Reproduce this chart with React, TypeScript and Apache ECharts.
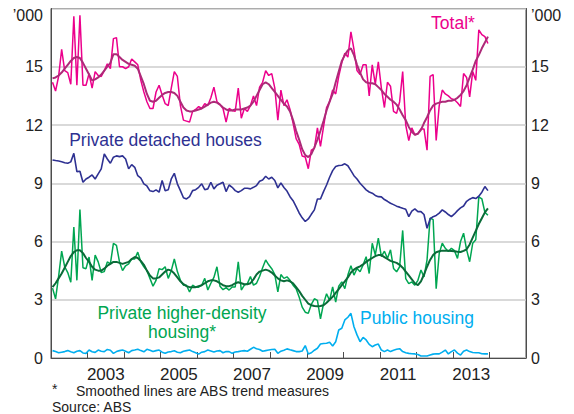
import React, { useEffect, useRef } from "react";
import * as echarts from "echarts";

// Monthly data, January 2002 to December 2013 ('000 dwellings)
const startYear = 2002;

const totalRaw = [
  14.2, 13.75, 14.5, 15.9, 14.8, 14.7, 14.1, 17.6, 14.05, 17.65, 14.05, 14.05,
  14.65, 13.9, 14.75, 14.55, 14.5, 14.8, 15.15, 14.9, 16.45, 16.5, 15.0, 15.0,
  14.9, 15.0, 15.4, 15.25, 15.1, 14.3, 13.7, 13.2, 12.85, 12.85, 13.7, 14.05,
  13.55, 13.1, 13.0, 13.9, 14.75, 14.5, 13.0, 12.25, 12.2, 12.15, 12.7, 12.8,
  12.95, 12.85, 13.1, 13.0, 13.4, 13.95, 13.2, 13.05, 12.85, 12.15, 12.85, 12.75,
  12.7, 13.9, 12.35, 12.85, 12.7, 13.0, 13.5, 13.0, 13.95, 14.2, 14.8, 14.55,
  14.65, 13.9, 12.25, 13.8, 13.0, 13.3, 12.8, 12.1, 11.3, 11.0, 10.4, 10.35,
  9.75, 10.7, 10.8, 11.85, 10.9, 11.9, 12.9, 13.2, 13.8, 13.6, 14.5, 15.2,
  15.7, 15.5, 16.8, 15.9, 14.8, 14.6, 15.1, 15.1, 13.5, 15.1, 14.1, 15.25,
  13.9, 12.9, 14.2, 14.0, 12.7, 12.6, 13.2, 14.75, 12.0, 11.2, 11.85, 11.5,
  11.55, 11.8, 11.8, 10.7, 14.5, 14.6, 11.2, 13.0, 13.8, 13.6, 13.5, 13.35,
  13.3, 13.15, 12.95, 14.65, 14.45, 13.45, 14.75, 14.3, 16.9, 16.65, 16.55, 16.2,
];

const totalTrend = [
  14.4, 14.45, 14.55, 14.7, 14.9, 15.1, 15.3, 15.45, 15.5, 15.45, 15.2, 14.9,
  14.6, 14.3, 14.35, 14.45, 14.6, 14.8, 15.0, 15.2, 15.65, 15.65, 15.5, 15.35,
  15.25, 15.15, 15.1, 15.05, 14.9, 14.5, 14.1, 13.6, 13.25, 13.2, 13.25, 13.4,
  13.55, 13.65, 13.7, 13.7, 13.65, 13.5, 13.2, 12.9, 12.75, 12.7, 12.7, 12.75,
  12.8, 12.85, 12.95, 13.05, 13.15, 13.2, 13.15, 13.05, 12.9, 12.8, 12.75, 12.75,
  12.8, 12.8, 12.8, 12.85, 12.9, 13.0, 13.2, 13.5, 13.8, 14.1, 14.2, 14.1,
  13.9, 13.7, 13.5, 13.3, 13.1, 12.95, 12.7, 12.25, 11.7, 11.25, 10.75, 10.45,
  10.35, 10.5, 10.85, 11.25, 11.7, 12.2, 12.75, 13.2, 13.6, 14.2, 14.75, 15.3,
  15.6, 15.85, 15.95, 15.6, 15.1, 14.7, 14.35, 14.2, 14.15, 14.15, 14.1, 13.95,
  13.8, 13.6, 13.45, 13.3, 13.2, 13.05, 12.8, 12.5, 12.25, 11.9, 11.65, 11.5,
  11.55, 11.75, 12.1, 12.4, 12.75, 13.0, 13.1, 13.15, 13.2, 13.2, 13.25, 13.25,
  13.3, 13.4, 13.55, 13.75, 14.05, 14.45, 14.85, 15.3, 15.6, 15.95, 16.25, 16.55,
];

const detached = [
  10.2, 10.17, 10.15, 10.11, 10.06, 10.03, 10.1, 10.54, 9.6, 9.62, 9.05, 9.22,
  9.31, 9.43, 9.22, 9.48, 9.74, 10.51, 10.25, 10.03, 10.34, 10.41, 10.37, 10.41,
  10.25, 9.74, 9.96, 9.82, 9.39, 9.26, 8.97, 8.86, 8.61, 8.57, 8.66, 8.54,
  9.14, 8.61, 8.66, 9.22, 9.51, 8.97, 8.62, 8.25, 8.19, 8.31, 8.62, 8.67,
  8.79, 8.97, 8.67, 8.71, 9.05, 8.71, 8.9, 8.97, 9.05, 8.57, 8.91, 8.79,
  8.62, 8.54, 8.62, 8.74, 8.74, 8.71, 8.79, 8.88, 9.1, 9.17, 9.36, 9.22,
  9.31, 9.14, 8.76, 9.02, 8.78, 8.6, 8.31, 8.1, 7.8, 7.47, 7.22, 7.03,
  7.16, 7.4, 7.63, 8.19, 8.19, 8.57, 8.91, 9.31, 9.65, 9.86, 9.91, 9.93,
  10.0, 9.9, 9.65, 9.39, 9.22, 9.0, 8.83, 8.66, 8.55, 8.49, 8.37, 8.31,
  8.3, 8.16, 8.07, 7.97, 7.9, 7.82, 7.77, 7.71, 7.66, 7.28, 7.56, 7.68,
  7.54, 7.54, 7.39, 6.68, 7.16, 7.28, 7.34, 7.46, 7.63, 7.52, 7.39, 7.28,
  7.42, 7.59, 7.73, 7.83, 8.07, 8.18, 8.26, 8.21, 8.33, 8.54, 8.83, 8.62,
];

const densityRaw = [
  3.6, 3.05, 4.2, 5.5, 4.7, 4.4, 3.9, 6.75, 4.0, 7.65, 4.65, 4.6,
  5.2, 4.0, 5.3, 4.95, 4.4, 4.45, 4.95, 4.85, 5.9, 5.8, 4.95, 4.5,
  4.75, 4.85, 5.1, 5.1, 5.45, 4.95, 4.7, 4.5, 4.1, 3.7, 4.0, 4.6,
  4.55, 4.7, 4.1, 4.5, 5.1, 4.45, 4.0, 3.75, 3.75, 3.4, 3.75, 3.65,
  3.65, 3.75, 4.1, 3.5, 3.85, 4.15, 4.7, 3.7, 3.52, 3.62, 3.5, 3.66,
  3.66, 4.95, 3.5, 3.75, 3.83, 4.2, 3.75, 3.85, 4.2, 4.65, 5.05, 4.8,
  4.6, 4.3, 3.4, 4.3, 4.1, 4.18, 4.0, 3.75, 3.57, 3.14, 2.62, 2.36,
  2.3, 2.76, 3.05, 2.97, 2.01, 2.8, 3.31, 2.97, 3.66, 2.88, 3.7, 3.92,
  3.57, 4.27, 4.75, 4.27, 4.61, 4.44, 4.79, 5.22, 4.35, 5.91, 5.31, 6.17,
  5.22, 5.5, 5.13, 5.57, 4.61, 4.44, 4.7, 6.57, 4.09, 3.83, 3.92, 3.75,
  4.0, 4.53, 4.18, 5.05, 7.21, 7.13, 3.57, 5.39, 5.91, 5.65, 5.48, 5.65,
  5.53, 5.13, 6.0, 6.43, 5.57, 4.96, 5.91, 6.09, 8.3, 8.2, 7.5, 7.35,
];

const densityTrend = [
  3.65, 3.85, 4.1, 4.35, 4.65, 4.95, 5.25, 5.45, 5.55, 5.55, 5.4, 5.15,
  4.95, 4.7, 4.55, 4.5, 4.5, 4.6, 4.75, 4.85, 4.95, 4.95, 4.9, 4.85,
  4.9, 4.95, 5.1, 5.2, 5.15, 5.0, 4.8, 4.5, 4.25, 4.1, 4.1, 4.15,
  4.3, 4.45, 4.55, 4.5, 4.35, 4.15, 3.95, 3.8, 3.7, 3.65, 3.65, 3.65,
  3.7, 3.75, 3.85, 3.95, 4.0, 4.0, 3.95, 3.85, 3.75, 3.7, 3.7, 3.75,
  3.85, 3.9, 3.85, 3.8, 3.8, 3.85, 4.05, 4.3, 4.45, 4.5, 4.55, 4.5,
  4.4, 4.25, 4.1, 4.0, 3.95, 4.0, 3.95, 3.85, 3.65, 3.45, 3.2, 3.0,
  2.8, 2.72, 2.68, 2.66, 2.68, 2.72, 2.85, 3.0, 3.15, 3.35, 3.55, 3.75,
  3.95, 4.15, 4.4, 4.55, 4.65, 4.72, 4.82, 4.95, 5.05, 5.15, 5.25, 5.3,
  5.3, 5.2, 5.1, 5.0, 4.95, 4.9, 4.8, 4.65, 4.45, 4.25, 4.05, 3.85,
  3.75, 3.95, 4.3, 4.7, 5.05, 5.3, 5.45, 5.5, 5.53, 5.53, 5.52, 5.51,
  5.5, 5.47, 5.46, 5.52, 5.6, 5.85, 6.2, 6.55, 6.9, 7.2, 7.5, 7.7,
];

const publicHousing = [
  0.38, 0.33, 0.27, 0.3, 0.33, 0.38, 0.32, 0.27, 0.35, 0.38, 0.26, 0.24,
  0.41, 0.32, 0.29, 0.41, 0.35, 0.33, 0.44, 0.4, 0.24, 0.33, 0.38, 0.41,
  0.35, 0.27, 0.38, 0.41, 0.45, 0.38, 0.32, 0.45, 0.4, 0.33, 0.38, 0.41,
  0.3, 0.24, 0.31, 0.33, 0.37, 0.3, 0.27, 0.35, 0.38, 0.41, 0.33, 0.27,
  0.2, 0.3, 0.33, 0.41, 0.36, 0.31, 0.36, 0.38, 0.27, 0.33, 0.33, 0.24,
  0.31, 0.33, 0.36, 0.38, 0.35, 0.45, 0.55, 0.48, 0.44, 0.35, 0.38, 0.41,
  0.44, 0.45, 0.24, 0.35, 0.4, 0.47, 0.42, 0.38, 0.33, 0.33, 0.36, 0.64,
  0.21, 0.27, 0.4, 0.5, 0.72, 0.75, 0.76, 0.81, 0.62, 0.84, 1.44, 1.53,
  1.96, 2.1, 2.3, 1.61, 1.19, 0.84, 1.06, 0.93, 0.7, 0.58, 0.67, 0.72,
  0.41, 0.33, 0.41, 0.33, 0.4, 0.45, 0.48, 0.33, 0.27, 0.24, 0.22, 0.21,
  0.18, 0.1, 0.1, 0.1, 0.15, 0.2, 0.22, 0.21, 0.3, 0.41, 0.21, 0.33,
  0.41, 0.25, 0.15, 0.35, 0.41, 0.33, 0.28, 0.27, 0.27, 0.22, 0.21, 0.21,
];

const yTicks = [0, 3, 6, 9, 12, 15];
const yearLabels = [2003, 2005, 2007, 2009, 2011, 2013];

const FONT = "'Liberation Sans', Arial, Helvetica, sans-serif";
const C_TOTAL = "#ec008c";
const C_TOTAL_TREND = "#ad2a78";
const C_DETACHED = "#2e3192";
const C_DENSITY = "#00a651";
const C_DENSITY_TREND = "#0a6b38";
const C_PUBLIC = "#00aeef";

// decimal year for the middle of each month
const monthPos = (i: number) => startYear + (i + 0.5) / 12;
const toPairs = (arr: number[]) => arr.map((v, i) => [monthPos(i), v]);

export default function App() {
  const ref = useRef<HTMLDivElement>(null);
  useEffect(() => {
    document.body.style.margin = "0";
    const chart = echarts.init(ref.current!, null, { renderer: "svg" });
    const line = (data: number[], color: string, width: number, z: number) => ({
      type: "line",
      data: toPairs(data),
      showSymbol: false,
      symbol: "none",
      lineStyle: { color, width },
      z,
      xAxisIndex: 0,
      yAxisIndex: 0,
    });
    const yAxisBase = {
      type: "value",
      min: 0,
      max: 18,
      interval: 3,
      axisLine: { show: true, lineStyle: { color: "#4d4d4d", width: 1 } },
      axisTick: { show: false },
      axisLabel: {
        fontFamily: FONT,
        fontSize: 16,
        color: "#222",
        formatter: (v: number) => (yTicks.includes(v) ? String(v) : ""),
      },
    };
    chart.setOption({
      animation: false,
      grid: {
        left: 51,
        right: 48,
        top: 8.5,
        bottom: 56,
        show: true,
        borderColor: "#4d4d4d",
        borderWidth: 1,
      },
      xAxis: [
        {
          type: "value",
          min: 2002,
          max: 2015,
          interval: 1,
          position: "bottom",
          axisLine: { show: true, onZero: false, lineStyle: { color: "#4d4d4d", width: 1 } },
          axisTick: { show: true, inside: true, length: 6, lineStyle: { color: "#4d4d4d" } },
          axisLabel: { show: false },
          splitLine: { show: false },
        },
        {
          type: "value",
          min: 2002,
          max: 2015,
          interval: 0.5,
          position: "bottom",
          axisLine: { show: false },
          axisTick: { show: false },
          splitLine: { show: false },
          axisLabel: {
            margin: 8,
            fontFamily: FONT,
            fontSize: 17,
            color: "#222",
            formatter: (v: number) => {
              const y = Math.floor(v);
              return v - y === 0.5 && yearLabels.includes(y) ? String(y) : "";
            },
          },
        },
      ],
      yAxis: [
        {
          ...yAxisBase,
          position: "left",
          axisLabel: { ...yAxisBase.axisLabel, margin: 8 },
          splitLine: { show: true, lineStyle: { color: "#cccccc", width: 1.5 } },
        },
        {
          ...yAxisBase,
          position: "right",
          axisLabel: { ...yAxisBase.axisLabel, margin: 5 },
          splitLine: { show: false },
        },
      ],
      series: [
        line(totalRaw, C_TOTAL, 1.5, 2),
        line(totalTrend, C_TOTAL_TREND, 2, 3),
        line(detached, C_DETACHED, 1.6, 3),
        line(densityRaw, C_DENSITY, 1.5, 2),
        line(densityTrend, C_DENSITY_TREND, 2, 3),
        line(publicHousing, C_PUBLIC, 1.6, 3),
      ],
      graphic: [
        { type: "text", left: undefined, x: 43, y: 15, style: { text: "’000", font: `16px ${FONT}`, fill: "#222", align: "right", verticalAlign: "middle" } },
        { type: "text", x: 531, y: 15, style: { text: "’000", font: `16px ${FONT}`, fill: "#222", align: "left", verticalAlign: "middle" } },
        { type: "text", x: 453, y: 23, style: { text: "Total*", font: `17.5px ${FONT}`, fill: C_TOTAL, align: "center", verticalAlign: "middle" } },
        { type: "text", x: 165.5, y: 140, style: { text: "Private detached houses", font: `17.5px ${FONT}`, fill: C_DETACHED, align: "center", verticalAlign: "middle" } },
        { type: "text", x: 182, y: 313, style: { text: "Private higher-density", font: `17.5px ${FONT}`, fill: C_DENSITY, align: "center", verticalAlign: "middle" } },
        { type: "text", x: 182, y: 332, style: { text: "housing*", font: `17.5px ${FONT}`, fill: C_DENSITY, align: "center", verticalAlign: "middle" } },
        { type: "text", x: 417, y: 318, style: { text: "Public housing", font: `17.5px ${FONT}`, fill: C_PUBLIC, align: "center", verticalAlign: "middle" } },
        { type: "text", x: 52, y: 389, style: { text: "*", font: `14px ${FONT}`, fill: "#222", align: "left", verticalAlign: "middle" } },
        { type: "text", x: 76, y: 391, style: { text: "Smoothed lines are ABS trend measures", font: `14px ${FONT}`, fill: "#222", align: "left", verticalAlign: "middle" } },
        { type: "text", x: 52, y: 407, style: { text: "Source: ABS", font: `14px ${FONT}`, fill: "#222", align: "left", verticalAlign: "middle" } },
      ],
    });
    return () => chart.dispose();
  }, []);
  return <div ref={ref} style={{ width: 574, height: 414 }} />;
}
